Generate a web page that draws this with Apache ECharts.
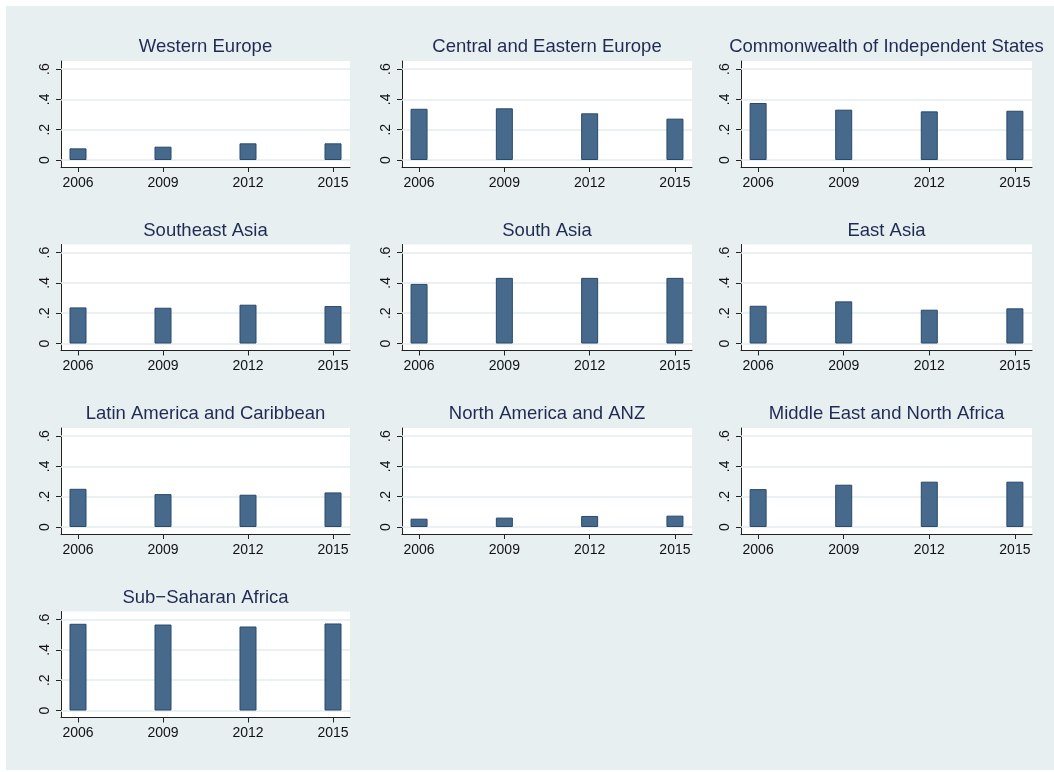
<!DOCTYPE html>
<html>
<head>
<meta charset="utf-8">
<script src="https://cdn.jsdelivr.net/npm/echarts@6/dist/echarts.min.js"></script>
<style>
  html, body { margin: 0; padding: 0; background: #ffffff; }
  #bg { position: absolute; left: 6px; top: 6px; width: 1048px; height: 764px; background: #e8eff1; }
  #chart { position: absolute; left: 0; top: 0; width: 1054px; height: 772px; }
</style>
</head>
<body>
<div id="bg"></div>
<div id="chart"></div>
<script>
// Survey years shown on every panel's x axis
const years = [2006, 2009, 2012, 2015];

// Y axis ticks and their printed labels
const yTicks = [0, 0.2, 0.4, 0.6];
const yTickLabels = ['0', '.2', '.4', '.6'];

// Panel titles, in reading order
const regions = [
  'Western Europe',
  'Central and Eastern Europe',
  'Commonwealth of Independent States',
  'Southeast Asia',
  'South Asia',
  'East Asia',
  'Latin America and Caribbean',
  'North America and ANZ',
  'Middle East and North Africa',
  'Sub\u2212Saharan Africa'
];

// Share per region and year (2006, 2009, 2012, 2015)
const westernEurope        = [0.077, 0.088, 0.110, 0.110];
const centralEasternEurope = [0.338, 0.341, 0.308, 0.273];
const commonwealthIndep    = [0.376, 0.332, 0.321, 0.325];
const southeastAsia        = [0.238, 0.236, 0.256, 0.247];
const southAsia            = [0.393, 0.433, 0.433, 0.433];
const eastAsia             = [0.249, 0.278, 0.223, 0.232];
const latinAmerica         = [0.252, 0.217, 0.213, 0.228];
const northAmericaANZ      = [0.055, 0.062, 0.073, 0.075];
const middleEastNAfrica    = [0.250, 0.279, 0.299, 0.299];
const subSaharanAfrica     = [0.572, 0.567, 0.554, 0.574];

const regionValues = [
  westernEurope, centralEasternEurope, commonwealthIndep,
  southeastAsia, southAsia, eastAsia,
  latinAmerica, northAmericaANZ, middleEastNAfrica,
  subSaharanAfrica
];

// Panel layout (3 columns)
const colLeft = [61, 402, 741];
const colWidth = [289, 290, 291];
const rowTop = [61, 244.5, 428, 611.5];
const plotHeight = 106;

const FONT = '"Liberation Sans", Arial, sans-serif';
const axisColor = '#222222';
const barFill = '#476a8c';
const barEdge = '#28496c';
const gridColor = '#e4ecef';
const titleColor = '#1f2b52';

const grids = [], xAxes = [], yAxes = [], series = [], titles = [];

regions.forEach(function (name, i) {
  const r = Math.floor(i / 3), c = i % 3;
  const left = colLeft[c], top = rowTop[r], width = colWidth[c];

  grids.push({
    left: left, top: top, width: width, height: plotHeight,
    show: true, backgroundColor: '#ffffff', borderWidth: 0
  });

  titles.push({
    text: name,
    left: left + width / 2,
    top: top - 23.5,
    textAlign: 'center',
    padding: 0,
    textStyle: { fontFamily: FONT, fontSize: 18.5, fontWeight: 'normal', color: titleColor }
  });

  xAxes.push({
    gridIndex: i,
    type: 'value',
    min: 2005.4,
    max: 2015.6,
    axisLine: { show: true, onZero: false, lineStyle: { color: axisColor, width: 1 } },
    axisTick: { show: true, customValues: years, length: 5, lineStyle: { color: axisColor, width: 1 } },
    axisLabel: {
      show: true, customValues: years, margin: 9,
      fontFamily: FONT, fontSize: 14, color: '#111111',
      formatter: function (v) { return String(Math.round(v)); }
    },
    splitLine: { show: false }
  });

  yAxes.push({
    gridIndex: i,
    type: 'value',
    min: -0.046,
    max: 0.653,
    axisLine: { show: true, onZero: false, lineStyle: { color: axisColor, width: 1 } },
    axisTick: { show: true, customValues: yTicks, length: 5, lineStyle: { color: axisColor, width: 1 } },
    axisLabel: {
      show: true, customValues: yTicks, rotate: 90, margin: 9,
      fontFamily: FONT, fontSize: 14, color: '#111111',
      formatter: function (v) {
        const k = yTicks.findIndex(function (t) { return Math.abs(t - v) < 1e-6; });
        return k >= 0 ? yTickLabels[k] : '';
      }
    },
    splitLine: { show: false }
  });

  series.push({
    type: 'bar',
    xAxisIndex: i,
    yAxisIndex: i,
    z: 2,
    barWidth: 17,
    data: years.map(function (y, k) { return [y, regionValues[i][k]]; }),
    itemStyle: { color: barFill, borderColor: barEdge, borderWidth: 1 },
    markLine: {
      z: 1,
      silent: true,
      symbol: 'none',
      label: { show: false },
      lineStyle: { color: gridColor, width: 1.5, type: 'solid' },
      data: yTicks.map(function (v) { return { yAxis: v }; })
    }
  });
});

const chart = echarts.init(document.getElementById('chart'), null, { renderer: 'canvas' });
chart.setOption({
  animation: false,
  backgroundColor: 'transparent',
  title: titles,
  grid: grids,
  xAxis: xAxes,
  yAxis: yAxes,
  series: series
});
</script>
</body>
</html>
